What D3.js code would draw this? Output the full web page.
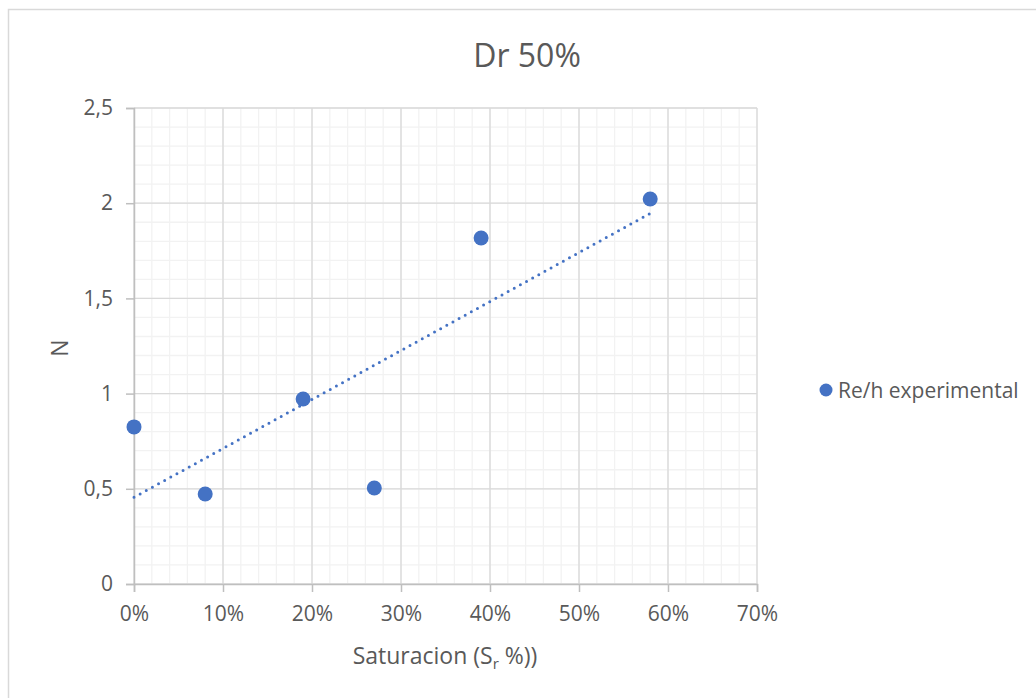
<!DOCTYPE html>
<html><head><meta charset="utf-8">
<script src="https://cdn.jsdelivr.net/npm/d3@7"></script>
<style>body{margin:0;background:#fff}svg{display:block;font-family:"Open Sans",sans-serif}</style>
</head><body><svg id="c" width="1036" height="698"></svg>
<script>
const title = "Dr 50%";
const seriesName = "Re/h experimental";
const saturation = [0, 0.08, 0.19, 0.27, 0.39, 0.58];
const nValues = [0.825, 0.473, 0.972, 0.504, 1.817, 2.022];
const xTicks = [0, 0.1, 0.2, 0.3, 0.4, 0.5, 0.6, 0.7];
const yTicks = [0, 0.5, 1, 1.5, 2, 2.5];
const yTickLabels = ["0", "0,5", "1", "1,5", "2", "2,5"];

const svg = d3.select("#c");
const L = 134, R = 757, T = 108, B = 584;
const x = d3.scaleLinear().domain([0, 0.7]).range([L, R]);
const y = d3.scaleLinear().domain([0, 2.5]).range([B, T]);
const txt = "#595959";

svg.append("rect").attr("x", 8.5).attr("y", 9.5).attr("width", 1100).attr("height", 800)
  .attr("fill", "#fff").attr("stroke", "#d9d9d9").attr("stroke-width", 1.5);

// minor grid
const g = svg.append("g");
g.selectAll(".mx").data(d3.range(0, 0.7001, 0.02)).enter().append("line")
  .attr("x1", d => x(d)).attr("x2", d => x(d)).attr("y1", T).attr("y2", B)
  .attr("stroke", "#f2f2f2").attr("stroke-width", 1.3);
g.selectAll(".my").data(d3.range(0, 2.5001, 0.1)).enter().append("line")
  .attr("y1", d => y(d)).attr("y2", d => y(d)).attr("x1", L).attr("x2", R)
  .attr("stroke", "#f2f2f2").attr("stroke-width", 1.3);
// major grid
g.selectAll(".Mx").data(xTicks).enter().append("line")
  .attr("x1", d => x(d)).attr("x2", d => x(d)).attr("y1", T).attr("y2", B)
  .attr("stroke", "#d9d9d9").attr("stroke-width", 1.3);
g.selectAll(".My").data(yTicks).enter().append("line")
  .attr("y1", d => y(d)).attr("y2", d => y(d)).attr("x1", L).attr("x2", R)
  .attr("stroke", "#d9d9d9").attr("stroke-width", 1.3);

// axes
const xAxis = svg.append("g").attr("transform", `translate(0,${B})`)
  .call(d3.axisBottom(x).tickValues(xTicks).tickSize(8).tickPadding(14)
    .tickFormat(d => Math.round(d * 100) + "%"));
const yAxis = svg.append("g").attr("transform", `translate(${L},0)`)
  .call(d3.axisLeft(y).tickValues(yTicks).tickSize(8).tickPadding(13)
    .tickFormat((d, i) => yTickLabels[i]));
[xAxis, yAxis].forEach(a => {
  a.select(".domain").attr("stroke", "#bfbfbf").attr("stroke-width", 1.5);
  a.selectAll(".tick line").attr("stroke", "#bfbfbf").attr("stroke-width", 1.5);
  a.selectAll("text").attr("fill", txt).attr("font-size", 21).attr("font-family", "Open Sans");
});

// trendline (least squares)
const mx = d3.mean(saturation), my = d3.mean(nValues);
const slope = d3.sum(saturation, (d, i) => (d - mx) * (nValues[i] - my)) /
  d3.sum(saturation, d => (d - mx) * (d - mx));
const icpt = my - slope * mx;
const x0 = d3.min(saturation), x1 = d3.max(saturation);
svg.append("line").attr("x1", x(x0)).attr("y1", y(icpt + slope * x0))
  .attr("x2", x(x1)).attr("y2", y(icpt + slope * x1))
  .attr("stroke", "#4472c4").attr("stroke-width", 3).attr("stroke-linecap", "round")
  .attr("stroke-dasharray", "0 7");

// points
svg.selectAll(".pt").data(saturation).enter().append("circle")
  .attr("cx", d => x(d)).attr("cy", (d, i) => y(nValues[i])).attr("r", 7.5)
  .attr("fill", "#4472c4");

// title
svg.append("text").attr("x", 527).attr("y", 67).attr("text-anchor", "middle")
  .attr("font-size", 32).attr("fill", txt).text(title);

// axis titles
const xt = svg.append("text").attr("x", 445).attr("y", 664).attr("text-anchor", "middle")
  .attr("font-size", 23).attr("fill", txt);
xt.append("tspan").text("Saturacion (S");
xt.append("tspan").attr("font-size", 15).attr("dy", 5).text("r");
xt.append("tspan").attr("dy", -5).text(" %))");
svg.append("text").attr("transform", "translate(68,348) rotate(-90)").attr("text-anchor", "middle")
  .attr("font-size", 23).attr("fill", txt).text("N");

// legend
svg.append("circle").attr("cx", 826).attr("cy", 390).attr("r", 6.5).attr("fill", "#4472c4");
svg.append("text").attr("x", 838).attr("y", 398).attr("font-size", 21).attr("fill", txt).text(seriesName);
</script></body></html>
